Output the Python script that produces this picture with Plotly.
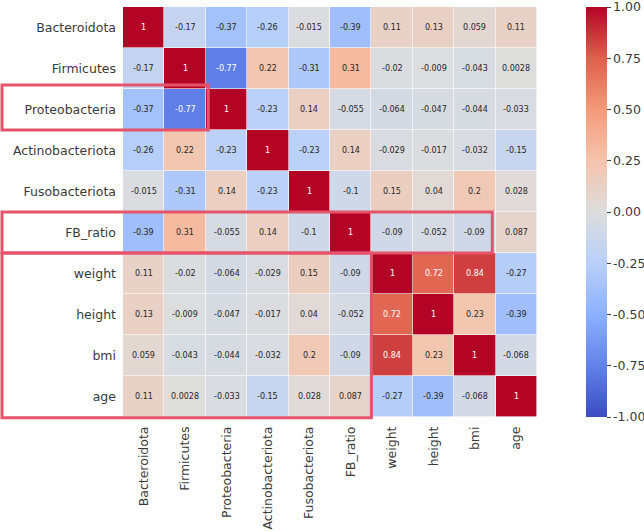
import plotly.graph_objects as go

labels = ["Bacteroidota", "Firmicutes", "Proteobacteria", "Actinobacteriota",
          "Fusobacteriota", "FB_ratio", "weight", "height", "bmi", "age"]

r_bacteroidota = [1, -0.17, -0.37, -0.26, -0.015, -0.39, 0.11, 0.13, 0.059, 0.11]
r_firmicutes = [-0.17, 1, -0.77, 0.22, -0.31, 0.31, -0.02, -0.009, -0.043, 0.0028]
r_proteobacteria = [-0.37, -0.77, 1, -0.23, 0.14, -0.055, -0.064, -0.047, -0.044, -0.033]
r_actinobacteriota = [-0.26, 0.22, -0.23, 1, -0.23, 0.14, -0.029, -0.017, -0.032, -0.15]
r_fusobacteriota = [-0.015, -0.31, 0.14, -0.23, 1, -0.1, 0.15, 0.04, 0.2, 0.028]
r_fb_ratio = [-0.39, 0.31, -0.055, 0.14, -0.1, 1, -0.09, -0.052, -0.09, 0.087]
r_weight = [0.11, -0.02, -0.064, -0.029, 0.15, -0.09, 1, 0.72, 0.84, -0.27]
r_height = [0.13, -0.009, -0.047, -0.017, 0.04, -0.052, 0.72, 1, 0.23, -0.39]
r_bmi = [0.059, -0.043, -0.044, -0.032, 0.2, -0.09, 0.84, 0.23, 1, -0.068]
r_age = [0.11, 0.0028, -0.033, -0.15, 0.028, 0.087, -0.27, -0.39, -0.068, 1]

z = [r_bacteroidota, r_firmicutes, r_proteobacteria, r_actinobacteriota,
     r_fusobacteriota, r_fb_ratio, r_weight, r_height, r_bmi, r_age]

cbar_ticks = [-1.0, -0.75, -0.5, -0.25, 0.0, 0.25, 0.5, 0.75, 1.0]
cbar_text = ["-1.00", "-0.75", "-0.50", "-0.25", "0.00", "0.25", "0.50", "0.75", "1.00"]

coolwarm = [
    [0.0, "#3b4cc0"], [0.125, "#6282ea"], [0.25, "#8db0fe"], [0.375, "#b8d0f9"],
    [0.5, "#dddddd"], [0.625, "#f5c4ac"], [0.75, "#f49a7b"], [0.875, "#de604d"],
    [1.0, "#b40426"],
]

W, H = 644, 532
L, R, T, B = 123, 107, 7, 115
pw, ph = W - L - R, H - T - B

fig = go.Figure()
fig.add_trace(go.Heatmap(
    z=z, x=labels, y=labels, zmin=-1, zmax=1, colorscale=coolwarm,
    xgap=0.6, ygap=0.6, hoverongaps=False,
    colorbar=dict(
        x=(586 - L) / pw, xanchor="left", xpad=0, ypad=0,
        y=0.5, yanchor="middle", len=1.0, lenmode="fraction",
        thickness=21, outlinewidth=0,
        tickmode="array", tickvals=cbar_ticks, ticktext=cbar_text,
        ticks="outside", ticklen=4, tickcolor="#444",
        ticklabeloverflow="allow",
        tickfont=dict(family="DejaVu Sans", size=12.5, color="#3a3a3a"),
    ),
))

annotations = []
for i, row in enumerate(z):
    for j, v in enumerate(row):
        annotations.append(dict(
            x=labels[j], y=labels[i], xref="x", yref="y",
            text=format(v, ".2g"), showarrow=False,
            font=dict(family="DejaVu Sans", size=8,
                      color="white" if abs(v) > 0.6 else "#262626"),
        ))

box_color = "#e5546b"
def px_x(p):
    return (p - L) / pw
def col_x(c):
    return c / 10
def row_y(r):
    return 1 - r / 10

shapes = [
    dict(type="rect", xref="paper", yref="paper",
         x0=px_x(2), x1=col_x(2) + 0.006, y0=row_y(3), y1=row_y(2) + 0.01,
         line=dict(color=box_color, width=3), layer="above"),
    dict(type="rect", xref="paper", yref="paper",
         x0=px_x(2), x1=col_x(9) - 0.008, y0=row_y(6), y1=row_y(5),
         line=dict(color=box_color, width=3), layer="above"),
    dict(type="rect", xref="paper", yref="paper",
         x0=px_x(2), x1=col_x(6), y0=row_y(10) - 0.002, y1=row_y(6),
         line=dict(color=box_color, width=3), layer="above"),
]

fig.update_layout(
    width=W, height=H,
    margin=dict(l=L, r=R, t=T, b=B, pad=0, autoexpand=False),
    paper_bgcolor="white", plot_bgcolor="white",
    annotations=annotations, shapes=shapes,
    showlegend=False,
)
fig.update_xaxes(
    type="category", tickangle=-90, ticks="", showgrid=False, zeroline=False,
    showline=False, ticklabelstandoff=6,
    tickfont=dict(family="DejaVu Sans", size=12.5, color="#3a3a3a"),
)
fig.update_yaxes(
    type="category", autorange="reversed", ticks="", showgrid=False, zeroline=False,
    showline=False, ticklabelstandoff=6,
    tickfont=dict(family="DejaVu Sans", size=12.5, color="#3a3a3a"),
)

fig.write_html("out.html", config={"displayModeBar": False},
               post_script="document.body.style.margin='0px';document.body.style.overflow='hidden';")
